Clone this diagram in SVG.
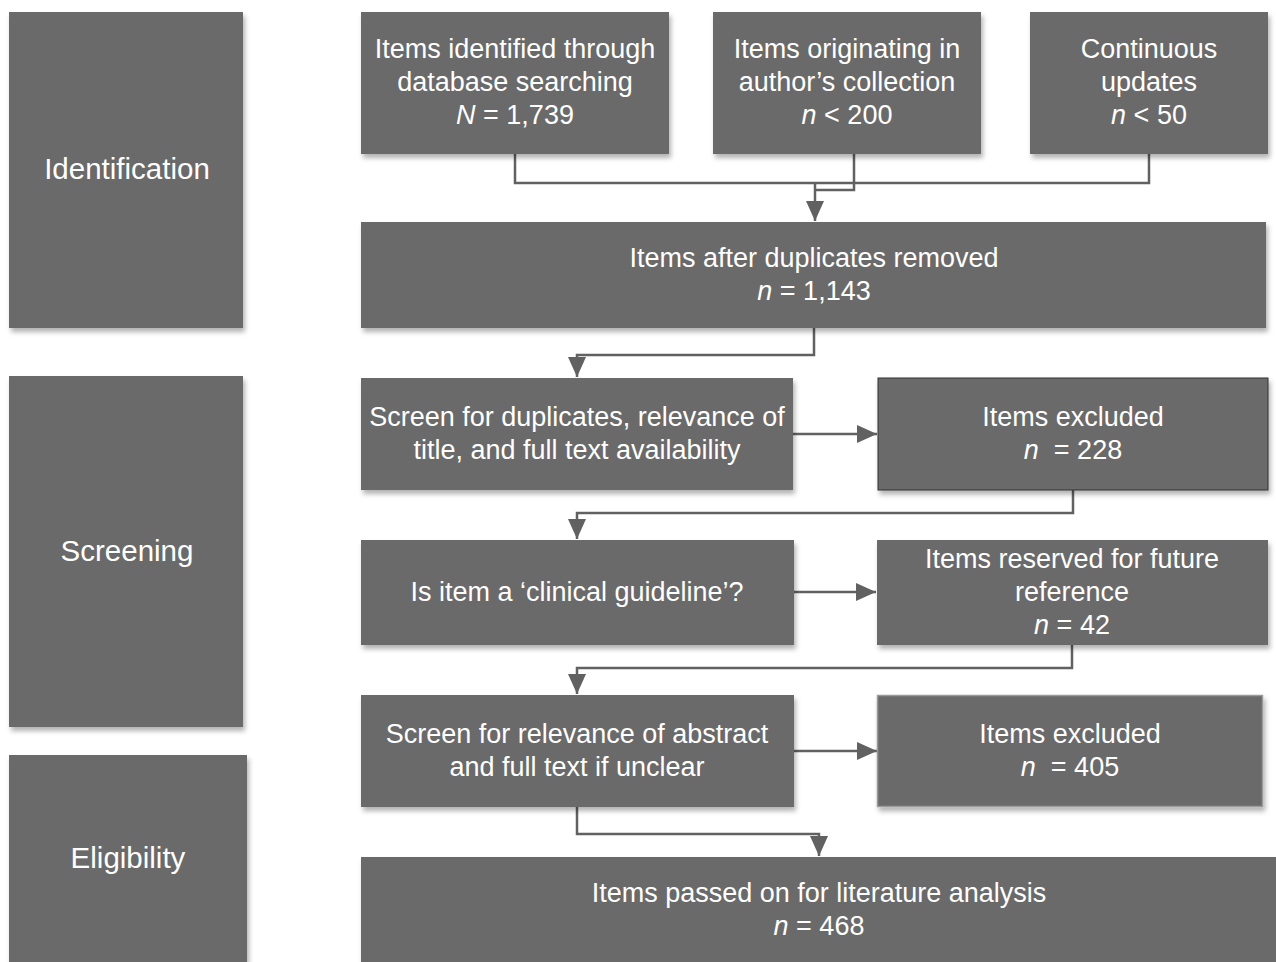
<svg xmlns="http://www.w3.org/2000/svg" width="1276" height="962" viewBox="0 0 1276 962">
  <style>
    .box { fill: #6a6a6a; }
    .t { fill: #ffffff; font-family: "Liberation Sans", Arial, sans-serif; font-size: 27px; text-anchor: middle; }
    .s { font-size: 29.5px; }
    .i { font-style: italic; }
    .c { fill: none; stroke: #616161; stroke-width: 2.5; }
  </style>
  <defs>
    <filter id="shadow" x="-5%" y="-5%" width="115%" height="125%">
      <feDropShadow dx="2" dy="4" stdDeviation="2.5" flood-color="#000" flood-opacity="0.3"/>
    </filter>
    <marker id="arrow" markerUnits="userSpaceOnUse" markerWidth="20" markerHeight="20" viewBox="0 0 20 20" refX="20" refY="10" orient="auto">
      <path d="M0,1 L20,10 L0,19 Z" fill="#616161"/>
    </marker>
  </defs>

  <!-- stage labels -->
  <g id="stage-identification">
    <rect class="box" x="9" y="12" width="234" height="316" filter="url(#shadow)"/>
    <text class="t s" x="127" y="179">Identification</text>
  </g>
  <g id="stage-screening">
    <rect class="box" x="9" y="376" width="234" height="351" filter="url(#shadow)"/>
    <text class="t s" x="127" y="561">Screening</text>
  </g>
  <g id="stage-eligibility">
    <rect class="box" x="9" y="755" width="238" height="220" filter="url(#shadow)"/>
    <text class="t s" x="128" y="868">Eligibility</text>
  </g>

  <!-- connectors -->
  <g id="connectors">
    <polyline class="c" points="515,154 515,183 1149,183 1149,154"/>
    <polyline class="c" points="854,154 854,190 815,190"/>
    <line class="c" x1="815" y1="183" x2="815" y2="221" marker-end="url(#arrow)"/>
    <polyline class="c" points="814,328 814,355 577,355 577,377" marker-end="url(#arrow)"/>
    <line class="c" x1="793" y1="434" x2="877" y2="434" marker-end="url(#arrow)"/>
    <polyline class="c" points="1073,490 1073,513 577,513 577,539" marker-end="url(#arrow)"/>
    <line class="c" x1="794" y1="592" x2="876" y2="592" marker-end="url(#arrow)"/>
    <polyline class="c" points="1072,645 1072,668 577,668 577,694" marker-end="url(#arrow)"/>
    <line class="c" x1="794" y1="751" x2="877" y2="751" marker-end="url(#arrow)"/>
    <polyline class="c" points="577,807 577,834 819,834 819,856" marker-end="url(#arrow)"/>
  </g>

  <g id="n-database">
    <rect class="box" x="361" y="12" width="308" height="142" filter="url(#shadow)"/>
    <text class="t" x="515" y="58">Items identified through</text>
    <text class="t" x="515" y="91">database searching</text>
    <text class="t" x="515" y="124"><tspan class="i">N</tspan> = 1,739</text>
  </g>
  <g id="n-author">
    <rect class="box" x="713" y="12" width="268" height="142" filter="url(#shadow)"/>
    <text class="t" x="847" y="58">Items originating in</text>
    <text class="t" x="847" y="91">author’s collection</text>
    <text class="t" x="847" y="124"><tspan class="i">n</tspan> &lt; 200</text>
  </g>
  <g id="n-updates">
    <rect class="box" x="1030" y="12" width="238" height="142" filter="url(#shadow)"/>
    <text class="t" x="1149" y="58">Continuous</text>
    <text class="t" x="1149" y="91">updates</text>
    <text class="t" x="1149" y="124"><tspan class="i">n</tspan> &lt; 50</text>
  </g>
  <g id="n-dedup">
    <rect class="box" x="361" y="222" width="905" height="106" filter="url(#shadow)"/>
    <text class="t" x="814" y="267">Items after duplicates removed</text>
    <text class="t" x="814" y="300"><tspan class="i">n</tspan> = 1,143</text>
  </g>
  <g id="n-screen1">
    <rect class="box" x="361" y="378" width="432" height="112" filter="url(#shadow)"/>
    <text class="t" x="577" y="426">Screen for duplicates, relevance of</text>
    <text class="t" x="577" y="459">title, and full text availability</text>
  </g>
  <g id="n-excluded1">
    <rect class="box" x="878" y="378" width="390" height="112" stroke="#333" stroke-width="1" filter="url(#shadow)"/>
    <text class="t" x="1073" y="426">Items excluded</text>
    <text class="t" x="1073" y="459"><tspan class="i">n</tspan>&#160; = 228</text>
  </g>
  <g id="n-guideline">
    <rect class="box" x="361" y="540" width="433" height="105" filter="url(#shadow)"/>
    <text class="t" x="577" y="601">Is item a ‘clinical guideline’?</text>
  </g>
  <g id="n-reserved">
    <rect class="box" x="877" y="540" width="391" height="105" filter="url(#shadow)"/>
    <text class="t" x="1072" y="568">Items reserved for future</text>
    <text class="t" x="1072" y="601">reference</text>
    <text class="t" x="1072" y="634"><tspan class="i">n</tspan> = 42</text>
  </g>
  <g id="n-screen2">
    <rect class="box" x="361" y="695" width="433" height="112" filter="url(#shadow)"/>
    <text class="t" x="577" y="743">Screen for relevance of abstract</text>
    <text class="t" x="577" y="776">and full text if unclear</text>
  </g>
  <g id="n-excluded2">
    <rect class="box" x="877.5" y="695.5" width="385" height="111" stroke="#9a9a9a" stroke-width="1.5" filter="url(#shadow)"/>
    <text class="t" x="1070" y="743">Items excluded</text>
    <text class="t" x="1070" y="776"><tspan class="i">n</tspan>&#160; = 405</text>
  </g>
  <g id="n-passed">
    <rect class="box" x="361" y="857" width="920" height="120" filter="url(#shadow)"/>
    <text class="t" x="819" y="902">Items passed on for literature analysis</text>
    <text class="t" x="819" y="935"><tspan class="i">n</tspan> = 468</text>
  </g>
</svg>
